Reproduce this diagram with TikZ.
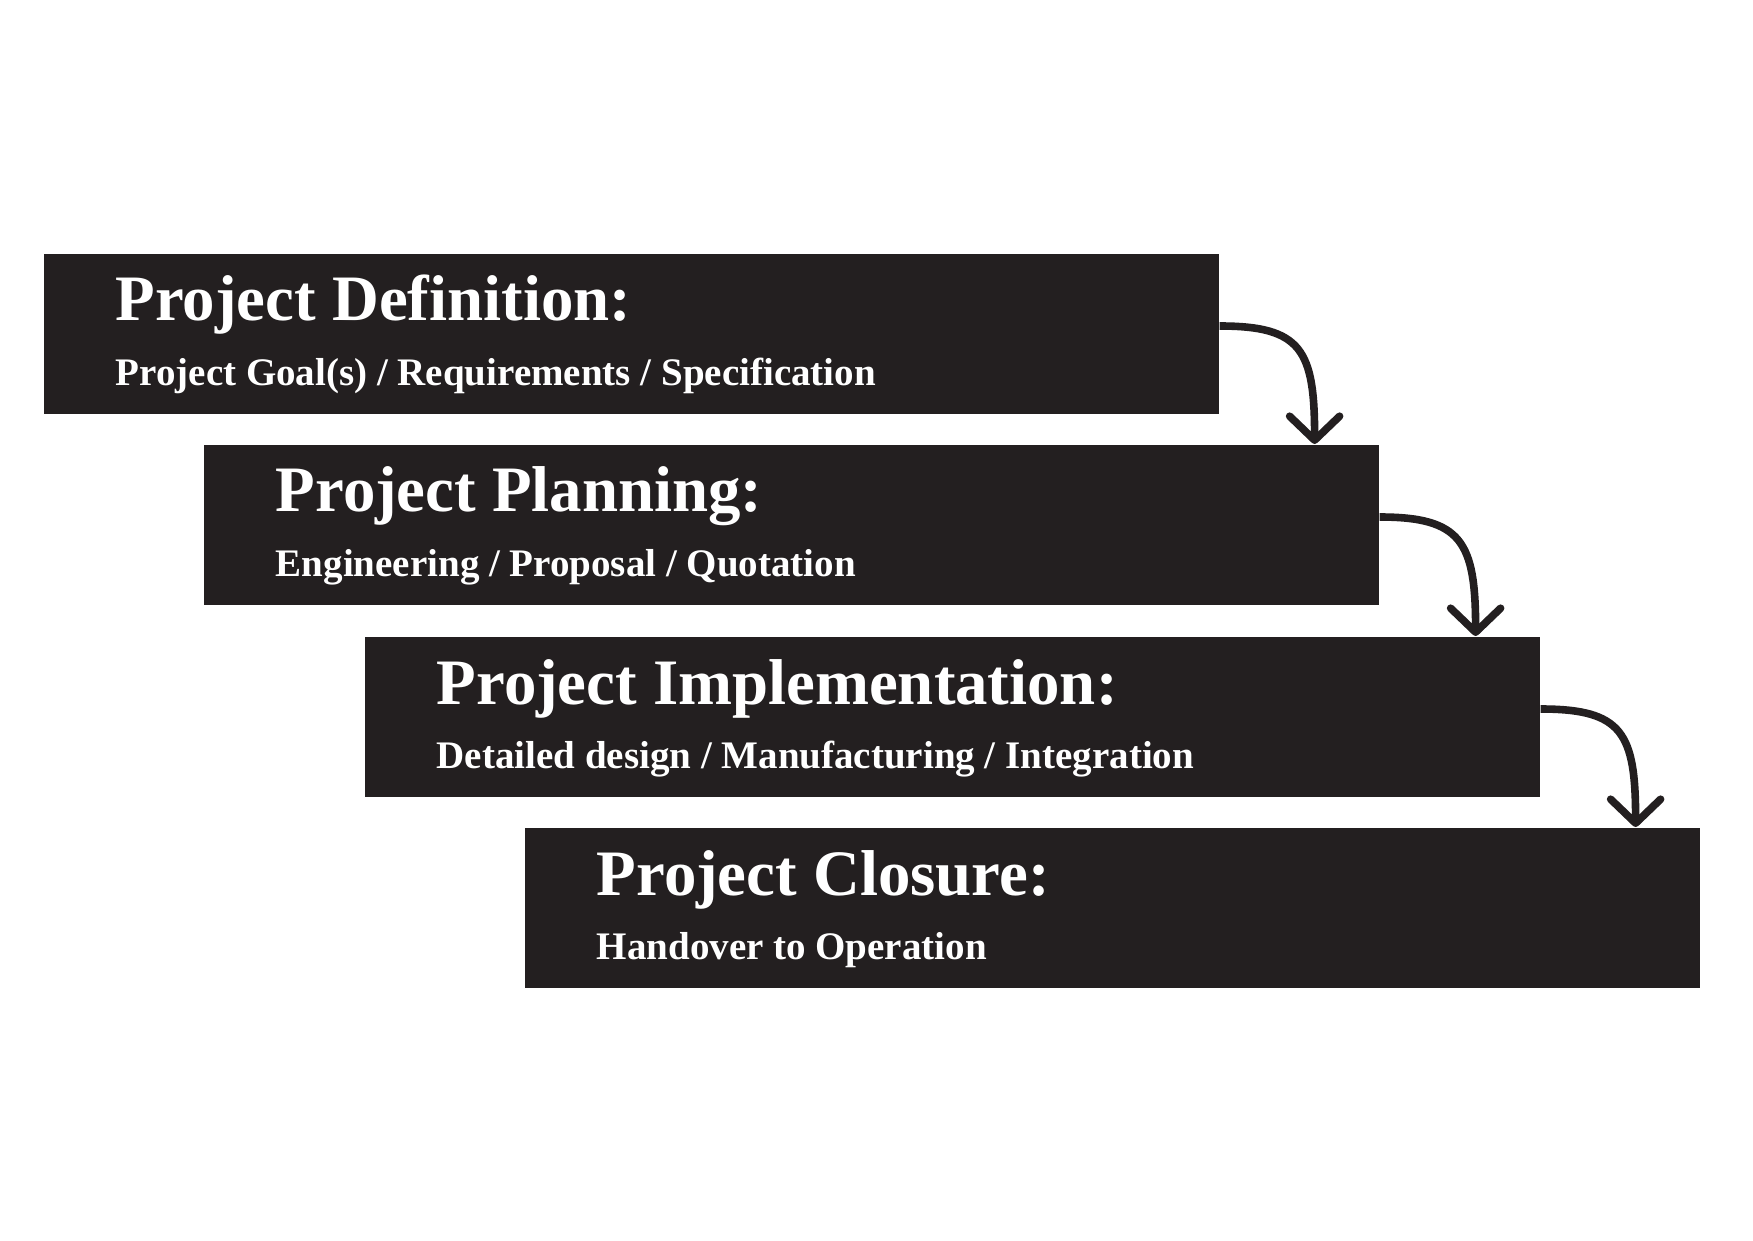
\documentclass[tikz,border=0pt]{standalone}
\usepackage{fontspec}
\setmainfont{Liberation Serif}
\usetikzlibrary{arrows.meta}
\definecolor{ink}{HTML}{231F20}

\begin{document}
\begin{tikzpicture}[x=0.25pt, y=-0.25pt,
  stage/.style={fill=ink, anchor=north west, inner sep=0pt,
    minimum width=293.75pt, minimum height=40pt},
  head/.style={text=white, anchor=base west, inner sep=0pt,
    font=\bfseries\fontsize{16.2}{19}\selectfont},
  sub/.style={text=white, anchor=base west, inner sep=0pt,
    font=\bfseries\fontsize{9.75}{12}\selectfont},
  flow/.style={draw=ink, line width=1.9pt,
    -{Straight Barb[round, length=6pt, width=12.5pt]}}]

  \useasboundingbox (0,0) rectangle (1753,1240);

  \node[stage] (def) at (43,253) {};
  \node[stage] (plan) at (203,444) {};
  \node[stage] (impl) at (364,636) {};
  \node[stage] (close) at (524,827) {};

  \node[head] (def head) at ([shift={(18pt,-17pt)}]def.north west)
  {Project Definition:};
  \node[sub] (def sub) at ([shift={(18pt,-33pt)}]def.north west)
  {Project Goal(s) / Requirements / Specification};

  \node[head] (plan head) at ([shift={(18pt,-17pt)}]plan.north west)
  {Project Planning:};
  \node[sub] (plan sub) at ([shift={(18pt,-33pt)}]plan.north west)
  {Engineering / Proposal / Quotation};

  \node[head] (impl head) at ([shift={(18pt,-17pt)}]impl.north west)
  {Project Implementation:};
  \node[sub] (impl sub) at ([shift={(18pt,-33pt)}]impl.north west)
  {Detailed design / Manufacturing / Integration};

  \node[head] (close head) at ([shift={(18pt,-17pt)}]close.north west)
  {Project Closure:};
  \node[sub] (close sub) at ([shift={(18pt,-33pt)}]close.north west)
  {Handover to Operation};

  \draw[flow] ([yshift=-18.25pt]def.north east)
  .. controls +(20.5pt,0pt) and +(0pt,23.5pt) .. ([xshift=-16.25pt]plan.north east);
  \draw[flow] ([yshift=-18.25pt]plan.north east)
  .. controls +(20.5pt,0pt) and +(0pt,23.5pt) .. ([xshift=-16.25pt]impl.north east);
  \draw[flow] ([yshift=-18.25pt]impl.north east)
  .. controls +(20.5pt,0pt) and +(0pt,23.5pt) .. ([xshift=-16.25pt]close.north east);

\end{tikzpicture}
\end{document}
